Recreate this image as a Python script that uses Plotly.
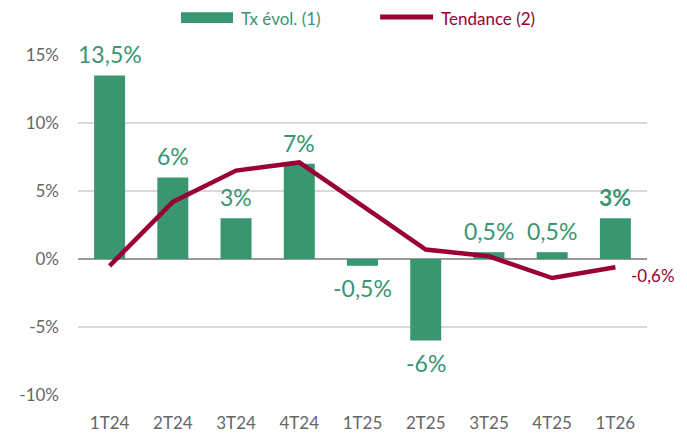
"""Taux d'évolution trimestriel et tendance."""

import plotly.graph_objects as go

# Données
trimestres = ['1T24', '2T24', '3T24', '4T24', '1T25', '2T25', '3T25', '4T25', '1T26']
tx_evol = [13.5, 6, 3, 7, -0.5, -6, 0.5, 0.5, 3]
tx_evol_labels = ['13,5%', '6%', '3%', '7%', '-0,5%', '-6%', '0,5%', '0,5%', '<b>3%</b>']
tendance = [-0.5, 4.2, 6.5, 7.1, 3.9, 0.7, 0.2, -1.4, -0.6]
tendance_label = '-0,6%'
y_ticks = [-10, -5, 0, 5, 10, 15]
y_tick_labels = ['-10%', '-5%', '0%', '5%', '10%', '15%']

# Farben
VERT = '#389670'
BORDEAUX = '#990033'
GRIS = '#666666'
POLICE = 'Lato, "Open Sans", sans-serif'

fig = go.Figure()

fig.add_trace(go.Bar(
    x=trimestres,
    y=tx_evol,
    name='Tx évol. (1)',
    marker=dict(color=VERT, line=dict(width=0)),
    showlegend=False,
))

fig.add_trace(go.Scatter(
    x=trimestres,
    y=tendance,
    mode='lines',
    name='Tendance (2)',
    line=dict(color=BORDEAUX, width=4.5),
    cliponaxis=False,
    showlegend=False,
))

# Étiquettes des barres
for t, v, lab in zip(trimestres, tx_evol, tx_evol_labels):
    fig.add_annotation(
        x=t, y=v,
        text=lab,
        showarrow=False,
        yanchor='middle',
        yshift=21 if v >= 0 else -22,
        font=dict(color=VERT, size=23, family=POLICE),
    )

# Dernière valeur de la tendance
fig.add_annotation(
    x=trimestres[-1], y=tendance[-1],
    text=tendance_label,
    showarrow=False,
    xanchor='left', yanchor='middle',
    xshift=14, yshift=-8,
    font=dict(color=BORDEAUX, size=17, family=POLICE),
)

# Légende (dessinée à la main)
fig.add_shape(type='rect', xref='paper', yref='paper',
              x0=0.181, x1=0.2724, y0=1.094, y1=1.126,
              fillcolor=VERT, line=dict(width=0))
fig.add_shape(type='line', xref='paper', yref='paper',
              x0=0.531, x1=0.624, y0=1.1117, y1=1.1117,
              line=dict(color=BORDEAUX, width=5))
fig.add_annotation(xref='paper', yref='paper', x=0.283, y=1.1088,
                   text='Tx évol. (1)', showarrow=False,
                   xanchor='left', yanchor='middle',
                   font=dict(color=VERT, size=17, family=POLICE))
fig.add_annotation(xref='paper', yref='paper', x=0.6344, y=1.1088,
                   text='Tendance (2)', showarrow=False,
                   xanchor='left', yanchor='middle',
                   font=dict(color=BORDEAUX, size=17, family=POLICE))

# La page ajoute une marge de 8 px en haut et à gauche
fig.update_layout(
    width=687,
    height=434,
    margin=dict(l=70, r=48, t=47, b=47, autoexpand=False),
    plot_bgcolor='white',
    paper_bgcolor='white',
    bargap=0.51,
    font=dict(family=POLICE, color=GRIS, size=17),
    showlegend=False,
)

fig.update_xaxes(
    range=[-0.5, len(trimestres) - 0.5],
    showgrid=False,
    showline=False,
    ticks='',
    automargin=False,
    ticklabelstandoff=16,
    tickfont=dict(size=17, color=GRIS),
)

fig.update_yaxes(
    range=[-10, 15],
    tickvals=y_ticks,
    ticktext=y_tick_labels,
    showgrid=True,
    gridcolor='#d9d9d9',
    gridwidth=1.5,
    zeroline=True,
    zerolinecolor='#9a9a9a',
    zerolinewidth=2,
    showline=False,
    ticks='',
    automargin=False,
    ticklabelstandoff=18,
    tickfont=dict(size=17, color=GRIS),
)

fig.write_html("out.html")
